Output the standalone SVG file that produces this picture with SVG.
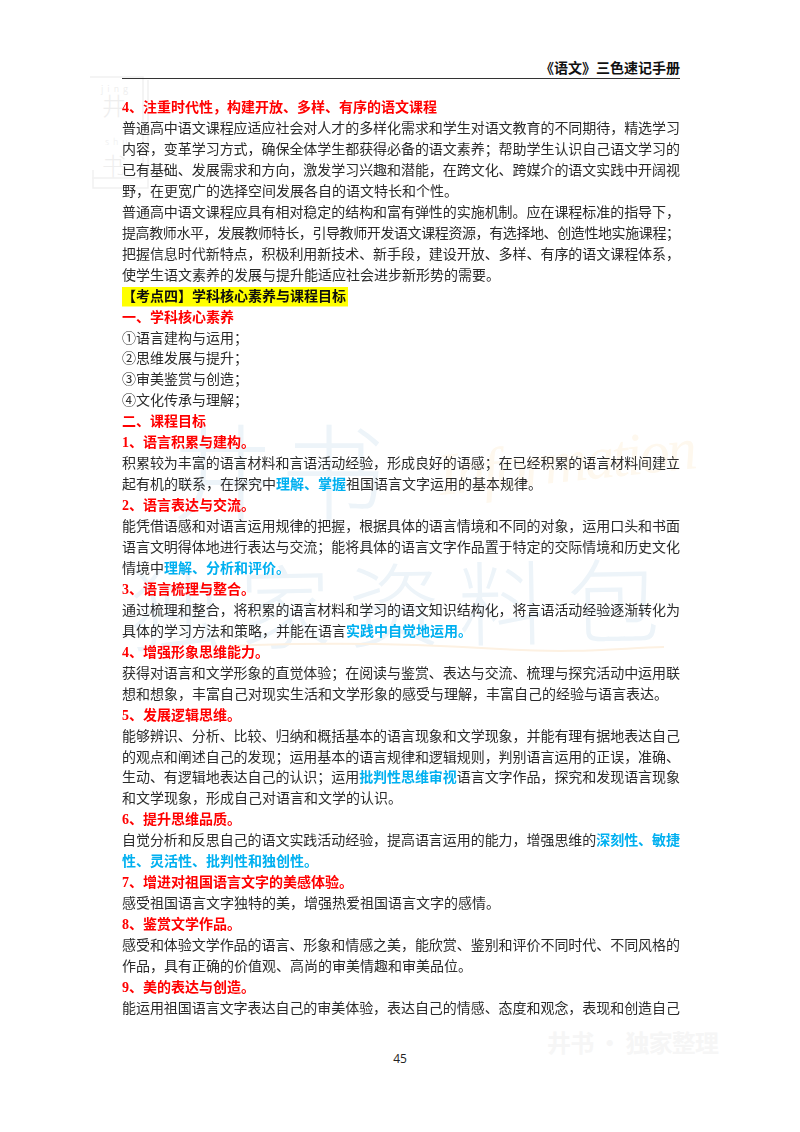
<svg xmlns="http://www.w3.org/2000/svg" width="800" height="1132" viewBox="0 0 800 1132" xml:lang="zh-CN">
<style>
text{font-family:"Liberation Serif","Noto Sans CJK SC",sans-serif;font-size:14px}
.b{fill:#2b2b2b}
.r{fill:#ff0000;font-weight:700}
.c{fill:#00b0f0;font-weight:700}
.k{fill:#111;font-weight:700}
.wm{font-family:"Noto Sans CJK SC",sans-serif;font-weight:300}
</style>
<defs><filter id="soft" x="0" y="0" width="100%" height="100%"><feGaussianBlur stdDeviation="0.3"/></filter></defs>
<rect width="800" height="1132" fill="#fff"/>
<g id="watermarks">
<g fill="none" stroke="#f1f1f1" stroke-width="1.5"><path d="M90 77H143V178H92"/><path d="M148 80V188H93V170"/></g>
<text class="wm" x="101" y="92" style="font-size:9px;letter-spacing:4px" fill="#eaeaea">jing</text>
<text class="wm" x="102" y="115" style="font-size:24px" fill="#eeeeee">井</text>
<text class="wm" x="105" y="145" style="font-size:9px;letter-spacing:4px" fill="#eeeeee">shu</text>
<text class="wm" x="102" y="175" style="font-size:24px" fill="#eeeeee">书</text>
<text class="wm" x="170" y="512" style="font-size:104px" fill="#edf4f9" textLength="215">井书</text>
<text class="wm" x="130" y="640" style="font-size:92px" fill="#edf4f9" textLength="530" transform="rotate(-1 400 640)">独家资料包</text>
<text x="440" y="495" style="font-size:60px;font-style:italic" fill="#fef8ee" textLength="260" transform="rotate(-6 440 495)">Information</text>
<path d="M229 646C320 642 420 644 500 649S620 648 664 647" fill="none" stroke="#fdf1e2" stroke-width="2"/>
<text class="wm" x="547" y="1052" style="font-size:24px;font-weight:700" fill="#f6f6f6" textLength="172">井书 · 独家整理</text>
</g>
<g id="header">
<text class="k" x="680" y="72.5" text-anchor="end">《语文》三色速记手册</text>
<rect x="122" y="78" width="558" height="1" fill="#333"/>
</g>
<rect id="highlight" x="122" y="287" width="226" height="19.5" fill="#ffff00"/>
<g id="body" filter="url(#soft)">
<text class="r" x="122" y="112">4、注重时代性，构建开放、多样、有序的语文课程</text>
<text class="b" x="122" y="133" textLength="558">普通高中语文课程应适应社会对人才的多样化需求和学生对语文教育的不同期待，精选学习</text>
<text class="b" x="122" y="153.9" textLength="558">内容，变革学习方式，确保全体学生都获得必备的语文素养；帮助学生认识自己语文学习的</text>
<text class="b" x="122" y="174.9" textLength="558">已有基础、发展需求和方向，激发学习兴趣和潜能，在跨文化、跨媒介的语文实践中开阔视</text>
<text class="b" x="122" y="195.8">野，在更宽广的选择空间发展各自的语文特长和个性。</text>
<text class="b" x="122" y="216.8" textLength="558">普通高中语文课程应具有相对稳定的结构和富有弹性的实施机制。应在课程标准的指导下，</text>
<text class="b" x="122" y="237.7" textLength="558">提高教师水平，发展教师特长，引导教师开发语文课程资源，有选择地、创造性地实施课程；</text>
<text class="b" x="122" y="258.7" textLength="558">把握信息时代新特点，积极利用新技术、新手段，建设开放、多样、有序的语文课程体系，</text>
<text class="b" x="122" y="279.6">使学生语文素养的发展与提升能适应社会进步新形势的需要。</text>
<text class="k" x="122" y="300.6">【考点四】学科核心素养与课程目标</text>
<text class="r" x="122" y="321.5">一、学科核心素养</text>
<text class="b" x="122" y="342.5">①语言建构与运用；</text>
<text class="b" x="122" y="363.4">②思维发展与提升；</text>
<text class="b" x="122" y="384.4">③审美鉴赏与创造；</text>
<text class="b" x="122" y="405.3">④文化传承与理解；</text>
<text class="r" x="122" y="426.3">二、课程目标</text>
<text class="r" x="122" y="447.2">1、语言积累与建构。</text>
<text class="b" x="122" y="468.2" textLength="558">积累较为丰富的语言材料和言语活动经验，形成良好的语感；在已经积累的语言材料间建立</text>
<text class="b" x="122" y="489.1">起有机的联系，在探究中<tspan class="c">理解、掌握</tspan>祖国语言文字运用的基本规律。</text>
<text class="r" x="122" y="510.1">2、语言表达与交流。</text>
<text class="b" x="122" y="531" textLength="558">能凭借语感和对语言运用规律的把握，根据具体的语言情境和不同的对象，运用口头和书面</text>
<text class="b" x="122" y="552" textLength="558">语言文明得体地进行表达与交流；能将具体的语言文字作品置于特定的交际情境和历史文化</text>
<text class="b" x="122" y="572.9">情境中<tspan class="c">理解、分析和评价。</tspan></text>
<text class="r" x="122" y="593.9">3、语言梳理与整合。</text>
<text class="b" x="122" y="614.8" textLength="558">通过梳理和整合，将积累的语言材料和学习的语文知识结构化，将言语活动经验逐渐转化为</text>
<text class="b" x="122" y="635.8">具体的学习方法和策略，并能在语言<tspan class="c">实践中自觉地运用。</tspan></text>
<text class="r" x="122" y="656.7">4、增强形象思维能力。</text>
<text class="b" x="122" y="677.7" textLength="558">获得对语言和文学形象的直觉体验；在阅读与鉴赏、表达与交流、梳理与探究活动中运用联</text>
<text class="b" x="122" y="698.6">想和想象，丰富自己对现实生活和文学形象的感受与理解，丰富自己的经验与语言表达。</text>
<text class="r" x="122" y="719.6">5、发展逻辑思维。</text>
<text class="b" x="122" y="740.5" textLength="558">能够辨识、分析、比较、归纳和概括基本的语言现象和文学现象，并能有理有据地表达自己</text>
<text class="b" x="122" y="761.5" textLength="558">的观点和阐述自己的发现；运用基本的语言规律和逻辑规则，判别语言运用的正误，准确、</text>
<text class="b" x="122" y="782.4" textLength="558">生动、有逻辑地表达自己的认识；运用<tspan class="c">批判性思维审视</tspan>语言文字作品，探究和发现语言现象</text>
<text class="b" x="122" y="803.4">和文学现象，形成自己对语言和文学的认识。</text>
<text class="r" x="122" y="824.3">6、提升思维品质。</text>
<text class="b" x="122" y="845.3" textLength="558">自觉分析和反思自己的语文实践活动经验，提高语言运用的能力，增强思维的<tspan class="c">深刻性、敏捷</tspan></text>
<text class="c" x="122" y="866.2">性、灵活性、批判性和独创性。</text>
<text class="r" x="122" y="887.2">7、增进对祖国语言文字的美感体验。</text>
<text class="b" x="122" y="908.1">感受祖国语言文字独特的美，增强热爱祖国语言文字的感情。</text>
<text class="r" x="122" y="929.1">8、鉴赏文学作品。</text>
<text class="b" x="122" y="950" textLength="558">感受和体验文学作品的语言、形象和情感之美，能欣赏、鉴别和评价不同时代、不同风格的</text>
<text class="b" x="122" y="971">作品，具有正确的价值观、高尚的审美情趣和审美品位。</text>
<text class="r" x="122" y="991.9">9、美的表达与创造。</text>
<text class="b" x="122" y="1012.9" textLength="558">能运用祖国语言文字表达自己的审美体验，表达自己的情感、态度和观念，表现和创造自己</text>
</g>
<text id="page-number" x="400" y="1062.5" text-anchor="middle" style="font-family:'Open Sans',sans-serif;font-size:12px" fill="#222">45</text>
</svg>
